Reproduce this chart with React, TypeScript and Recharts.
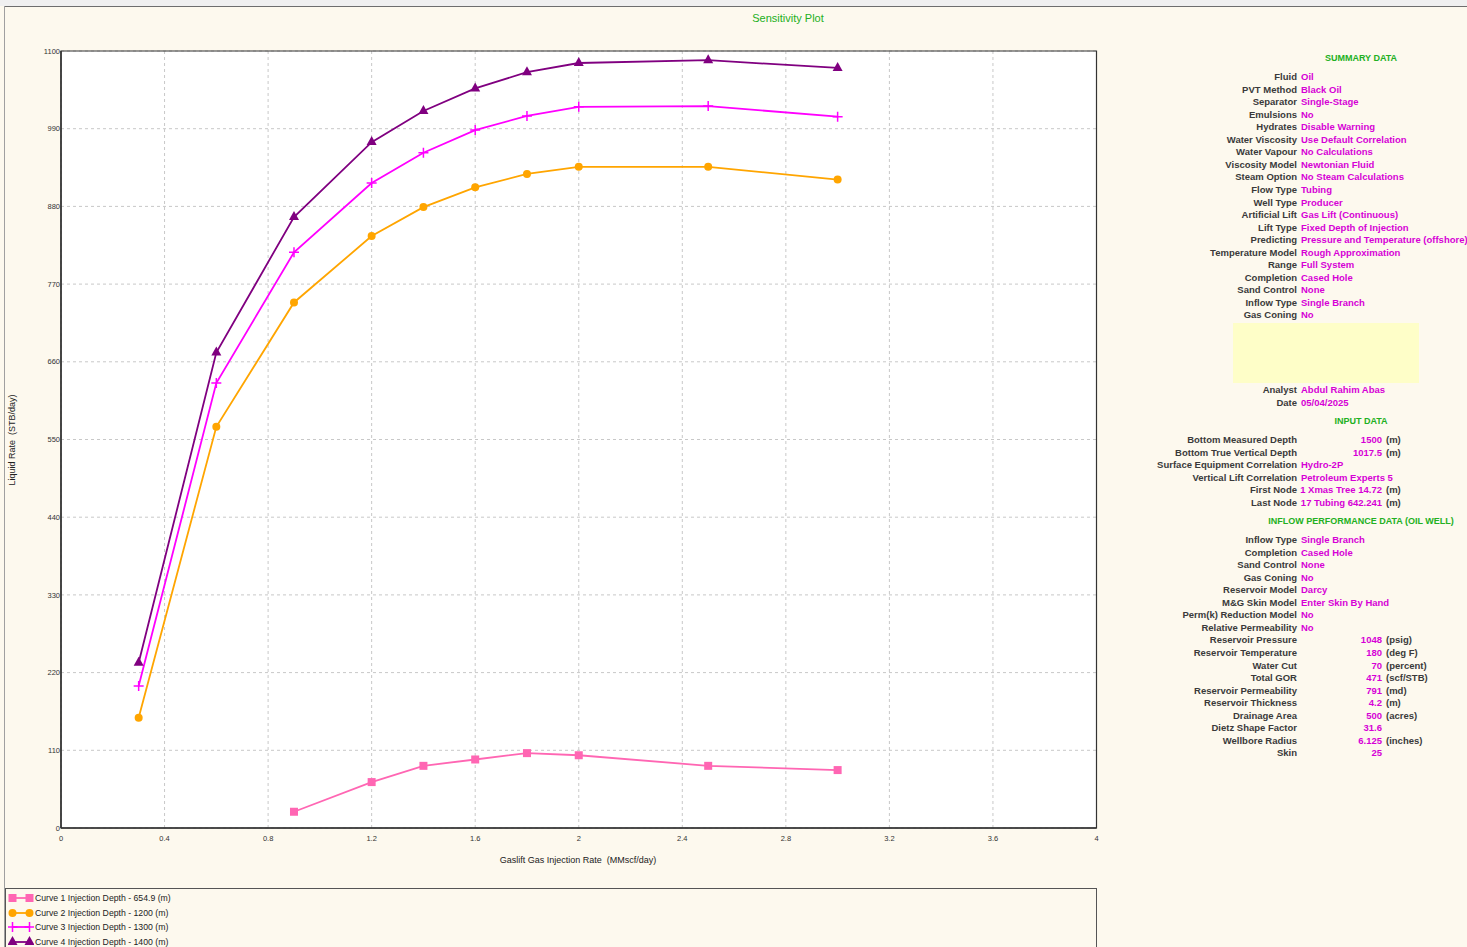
import { LineChart, Line, XAxis, YAxis, CartesianGrid, ReferenceArea } from 'recharts';

// axis ticks
const xTicks = [0, 0.4, 0.8, 1.2, 1.6, 2, 2.4, 2.8, 3.2, 3.6, 4];
const yTicks = [0, 110, 220, 330, 440, 550, 660, 770, 880, 990, 1100];

// gas injection rates (MMscf/day)
const curve1Rates = [0.9, 1.2, 1.4, 1.6, 1.8, 2, 2.5, 3];
const rates = [0.3, 0.6, 0.9, 1.2, 1.4, 1.6, 1.8, 2, 2.5, 3];

// liquid rates (STB/day)
const curve1Liquid = [23, 65, 88, 97, 106, 103, 88, 82];
const curve2Liquid = [156, 568, 744, 838, 879, 907, 926, 936, 936, 918];
const curve3Liquid = [201, 630, 815, 913, 956, 988, 1008, 1021, 1022, 1007];
const curve4Liquid = [234, 673, 865, 971, 1015, 1047, 1070, 1083, 1087, 1076];

const curveNames = [
  'Curve 1 Injection Depth - 654.9 (m)',
  'Curve 2 Injection Depth - 1200 (m)',
  'Curve 3 Injection Depth - 1300 (m)',
  'Curve 4 Injection Depth - 1400 (m)',
];

const summaryRows = [
  ['Fluid', 'Oil'],
  ['PVT Method', 'Black Oil'],
  ['Separator', 'Single-Stage'],
  ['Emulsions', 'No'],
  ['Hydrates', 'Disable Warning'],
  ['Water Viscosity', 'Use Default Correlation'],
  ['Water Vapour', 'No Calculations'],
  ['Viscosity Model', 'Newtonian Fluid'],
  ['Steam Option', 'No Steam Calculations'],
  ['Flow Type', 'Tubing'],
  ['Well Type', 'Producer'],
  ['Artificial Lift', 'Gas Lift (Continuous)'],
  ['Lift Type', 'Fixed Depth of Injection'],
  ['Predicting', 'Pressure and Temperature (offshore)'],
  ['Temperature Model', 'Rough Approximation'],
  ['Range', 'Full System'],
  ['Completion', 'Cased Hole'],
  ['Sand Control', 'None'],
  ['Inflow Type', 'Single Branch'],
  ['Gas Coning', 'No'],
];

const analystRows = [
  ['Analyst', 'Abdul Rahim Abas'],
  ['Date', '05/04/2025'],
];

// [label, value, unit] - unit null => left aligned text value
const inputRows: [string, string, string | null][] = [
  ['Bottom Measured Depth', '1500', '(m)'],
  ['Bottom True Vertical Depth', '1017.5', '(m)'],
  ['Surface Equipment Correlation', 'Hydro-2P', null],
  ['Vertical Lift Correlation', 'Petroleum Experts 5', null],
  ['First Node', '1 Xmas Tree 14.72', '(m)'],
  ['Last Node', '17 Tubing 642.241', '(m)'],
];

const inflowRows: [string, string, string | null][] = [
  ['Inflow Type', 'Single Branch', null],
  ['Completion', 'Cased Hole', null],
  ['Sand Control', 'None', null],
  ['Gas Coning', 'No', null],
  ['Reservoir Model', 'Darcy', null],
  ['M&G Skin Model', 'Enter Skin By Hand', null],
  ['Perm(k) Reduction Model', 'No', null],
  ['Relative Permeability', 'No', null],
  ['Reservoir Pressure', '1048', '(psig)'],
  ['Reservoir Temperature', '180', '(deg F)'],
  ['Water Cut', '70', '(percent)'],
  ['Total GOR', '471', '(scf/STB)'],
  ['Reservoir Permeability', '791', '(md)'],
  ['Reservoir Thickness', '4.2', '(m)'],
  ['Drainage Area', '500', '(acres)'],
  ['Dietz Shape Factor', '31.6', ''],
  ['Wellbore Radius', '6.125', '(inches)'],
  ['Skin', '25', ''],
];

const toPoints = (xs: number[], ys: number[]) => xs.map((x, i) => ({ x, y: ys[i] }));

const FONT = '"Liberation Sans", Arial, sans-serif';
const BG = '#fdf9ee';
const LABEL = '#3a3a3a';
const VALUE = '#d600d6';
const HEAD = '#22b022';

type MarkerKind = 'square' | 'circle' | 'plus' | 'triangle';

function Marker({ kind, cx, cy, color }: { kind: MarkerKind; cx: number; cy: number; color: string }) {
  if (kind === 'square') return <rect x={cx - 4} y={cy - 4} width={8} height={8} fill={color} />;
  if (kind === 'circle') return <circle cx={cx} cy={cy} r={4} fill={color} />;
  if (kind === 'plus')
    return (
      <path d={`M${cx - 5},${cy}H${cx + 5}M${cx},${cy - 5}V${cy + 5}`} stroke={color} strokeWidth={1.5} fill="none" />
    );
  return <path d={`M${cx},${cy - 6}L${cx + 5},${cy + 3}L${cx - 5},${cy + 3}Z`} fill={color} />;
}

const series = [
  { key: 'c1', data: toPoints(curve1Rates, curve1Liquid), color: '#ff66b3', kind: 'square' as MarkerKind },
  { key: 'c2', data: toPoints(rates, curve2Liquid), color: '#ffa500', kind: 'circle' as MarkerKind },
  { key: 'c3', data: toPoints(rates, curve3Liquid), color: '#ff00ff', kind: 'plus' as MarkerKind },
  { key: 'c4', data: toPoints(rates, curve4Liquid), color: '#800080', kind: 'triangle' as MarkerKind },
];

const ROW = 12.55;
const textBase = { position: 'absolute' as const, fontFamily: FONT, fontSize: 9.5, fontWeight: 700, lineHeight: '12px', whiteSpace: 'nowrap' as const };

function LabelCell({ text, top }: { text: string; top: number }) {
  return <div style={{ ...textBase, left: 1050, width: 247, textAlign: 'right', top: top - 6, color: LABEL }}>{text}</div>;
}

function ValueRow({ label, value, unit, top }: { label: string; value: string; unit: string | null; top: number }) {
  return (
    <>
      <LabelCell text={label} top={top} />
      {unit === null ? (
        <div style={{ ...textBase, left: 1301, top: top - 6, color: VALUE }}>{value}</div>
      ) : (
        <>
          <div style={{ ...textBase, left: 1282, width: 100, textAlign: 'right', top: top - 6, color: VALUE }}>{value}</div>
          <div style={{ ...textBase, left: 1386, top: top - 6, color: LABEL }}>{unit}</div>
        </>
      )}
    </>
  );
}

function Heading({ text, top }: { text: string; top: number }) {
  return <div style={{ ...textBase, left: 1211, width: 300, textAlign: 'center', top: top - 6, color: HEAD, fontSize: 9 }}>{text}</div>;
}

export default function App() {
  return (
    <div style={{ position: 'absolute', left: 0, top: 0, width: 1467, height: 947, overflow: 'hidden', background: BG, fontFamily: FONT }}>
      {/* window chrome */}
      <div style={{ position: 'absolute', left: 0, top: 0, width: 1467, height: 6, background: '#f0f0f0' }} />
      <div style={{ position: 'absolute', left: 4, top: 6, width: 1463, height: 1, background: '#6e6e6e' }} />
      <div style={{ position: 'absolute', left: 4, top: 6, width: 1, height: 941, background: '#a0a0a0' }} />

      <div style={{ position: 'absolute', left: 588, width: 400, top: 12, textAlign: 'center', fontSize: 11, color: HEAD }}>
        Sensitivity Plot
      </div>

      <div style={{ position: 'absolute', left: 0, top: 0 }}>
        <LineChart width={1100} height={870} margin={{ top: 51, right: 3.5, bottom: 12, left: 1 }}>
          <CartesianGrid stroke="#c8c8c8" strokeDasharray="3 3" fill="#ffffff" />
          <XAxis
            type="number"
            dataKey="x"
            domain={[0, 4]}
            ticks={xTicks}
            height={30}
            tickLine={false}
            tickSize={0}
            tickMargin={8}
            axisLine={{ stroke: '#333', strokeWidth: 1.5 }}
            tick={{ fontSize: 7.5, fill: '#333', fontFamily: FONT }}
            allowDataOverflow
          />
          <YAxis
            type="number"
            dataKey="y"
            domain={[0, 1100]}
            ticks={yTicks}
            width={60}
            tickLine={false}
            tickSize={0}
            tickMargin={1}
            axisLine={{ stroke: '#333', strokeWidth: 1.5 }}
            tick={{ fontSize: 7.5, fill: '#333', fontFamily: FONT }}
            allowDataOverflow
          />
          <ReferenceArea x1={0} x2={4} y1={0} y2={1100} fill="none" fillOpacity={0} stroke="#333" strokeWidth={1.2} />
          {series.map((s) => (
            <Line
              key={s.key}
              data={s.data}
              dataKey="y"
              type="linear"
              stroke={s.color}
              strokeWidth={1.8}
              isAnimationActive={false}
              dot={(p: any) => <Marker key={`${s.key}-${p.index}`} kind={s.kind} cx={p.cx} cy={p.cy} color={s.color} />}
              activeDot={false}
            />
          ))}
        </LineChart>
      </div>

      {/* axis titles */}
      <div style={{ position: 'absolute', left: 378, width: 400, top: 855, textAlign: 'center', fontSize: 9, color: '#222' }}>
        Gaslift Gas Injection Rate&nbsp;&nbsp;(MMscf/day)
      </div>
      <div
        style={{
          position: 'absolute', left: 12, top: 440, width: 200, marginLeft: -100, marginTop: -6,
          textAlign: 'center', fontSize: 9, lineHeight: '12px', color: '#222', transform: 'rotate(-90deg)',
        }}
      >
        Liquid Rate&nbsp;&nbsp;(STB/day)
      </div>

      {/* legend */}
      <div style={{ position: 'absolute', left: 5, top: 888, width: 1090, height: 80, border: '1px solid #555', background: BG }}>
        {series.map((s, i) => (
          <div key={s.key} style={{ position: 'absolute', left: 2, top: 3 + i * 14.5, height: 12, display: 'flex', alignItems: 'center' }}>
            <svg width={26} height={12}>
              <line x1={4} y1={6} x2={22} y2={6} stroke={s.color} strokeWidth={1.8} />
              <Marker kind={s.kind} cx={4.5} cy={6} color={s.color} />
              <Marker kind={s.kind} cx={21.5} cy={6} color={s.color} />
            </svg>
            <span style={{ marginLeft: 1, fontSize: 8.7, color: '#222', whiteSpace: 'nowrap' }}>{curveNames[i]}</span>
          </div>
        ))}
      </div>

      {/* summary panel */}
      <Heading text="SUMMARY DATA" top={58} />
      {summaryRows.map(([l, v], i) => (
        <ValueRow key={`s${i}`} label={l} value={v} unit={null} top={77 + i * ROW} />
      ))}
      <div style={{ position: 'absolute', left: 1233, top: 323, width: 186, height: 60, background: '#fefec8' }} />
      {analystRows.map(([l, v], i) => (
        <ValueRow key={`a${i}`} label={l} value={v} unit={null} top={390 + i * ROW} />
      ))}
      <Heading text="INPUT DATA" top={421} />
      {inputRows.map(([l, v, u], i) => (
        <ValueRow key={`i${i}`} label={l} value={v} unit={u} top={440 + i * ROW} />
      ))}
      <Heading text="INFLOW PERFORMANCE DATA (OIL WELL)" top={521} />
      {inflowRows.map(([l, v, u], i) => (
        <ValueRow key={`f${i}`} label={l} value={v} unit={u} top={540 + i * ROW} />
      ))}
    </div>
  );
}
